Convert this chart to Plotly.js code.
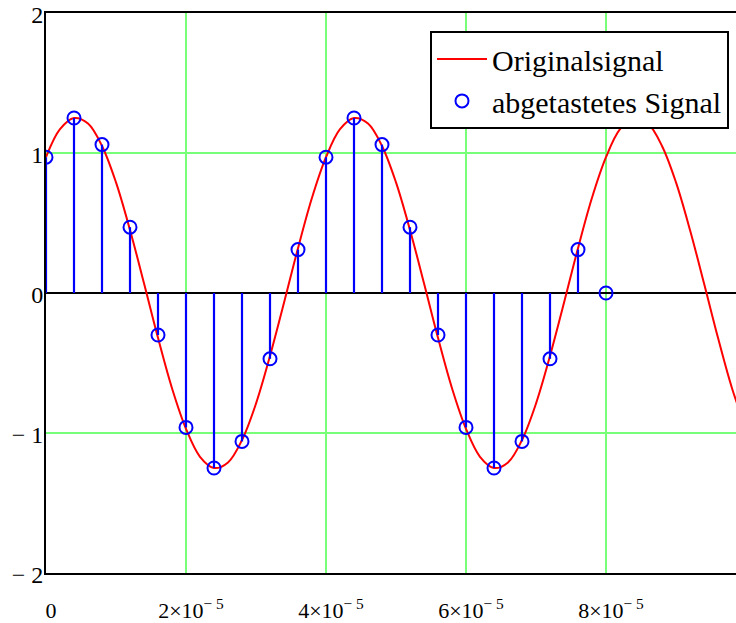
<!DOCTYPE html>
<html>
<head>
<meta charset="utf-8">
<script src="https://cdn.plot.ly/plotly-3.0.1.min.js"></script>
<style>
html,body{margin:0;padding:0;overflow:hidden;background:#fff;width:736px;height:623px;}
#chart{width:750px;height:623px;}
</style>
</head>
<body>
<div id="chart"></div>
<script>
// Original signal, read every 2 µs from the picture
var curveT = [0,2e-6,4e-6,6e-6,8e-6,10e-6,12e-6,14e-6,16e-6,18e-6,
              20e-6,22e-6,24e-6,26e-6,28e-6,30e-6,32e-6,34e-6,36e-6,38e-6,
              40e-6,42e-6,44e-6,46e-6,48e-6,50e-6,52e-6,54e-6,56e-6,58e-6,
              60e-6,62e-6,64e-6,66e-6,68e-6,70e-6,72e-6,74e-6,76e-6,78e-6,
              80e-6,82e-6,84e-6,86e-6,88e-6,90e-6,92e-6,94e-6,96e-6,98e-6,100e-6];
var curveV = [0.97,1.17,1.25,1.21,1.05,0.79,0.45,0.07,-0.32,-0.68,
              -0.97,-1.17,-1.25,-1.21,-1.05,-0.79,-0.45,-0.07,0.32,0.68,
              0.97,1.17,1.25,1.21,1.05,0.79,0.45,0.07,-0.32,-0.68,
              -0.97,-1.17,-1.25,-1.21,-1.05,-0.79,-0.45,-0.07,0.32,0.68,
              0.97,1.17,1.25,1.21,1.05,0.79,0.45,0.07,-0.32,-0.68,-0.97];

// Sampled signal (every 4 µs)
var sampT = [0,4e-6,8e-6,12e-6,16e-6,20e-6,24e-6,28e-6,32e-6,36e-6,
             40e-6,44e-6,48e-6,52e-6,56e-6,60e-6,64e-6,68e-6,72e-6,76e-6,80e-6];
var sampV = [0.97,1.25,1.06,0.47,-0.30,-0.96,-1.25,-1.06,-0.47,0.31,
             0.97,1.25,1.06,0.47,-0.30,-0.96,-1.25,-1.06,-0.47,0.31,0];

// Axis ticks
var xTickVals = [0,2e-5,4e-5,6e-5,8e-5];
var xTickText = ['0','2×10<sup>− 5</sup>','4×10<sup>− 5</sup>','6×10<sup>− 5</sup>','8×10<sup>− 5</sup>'];
var yTickVals = [-2,-1,0,1,2];
var yTickText = ['− 2','− 1','0','1','2'];

var seriesNames = ['Originalsignal','abgetastetes Signal'];

// stems built from the sample arrays
var stemX = [], stemY = [];
for (var i = 0; i < sampT.length; i++) {
  stemX.push(sampT[i], sampT[i], null);
  stemY.push(0, sampV[i], null);
}

var FONT = '"Liberation Serif","Times New Roman",serif';
var GRID = '#78ff78';

var traces = [
  {x: curveT, y: curveV, type: 'scatter', mode: 'lines', name: seriesNames[0],
   line: {color: '#ff0000', width: 2, shape: 'spline', smoothing: 1}},
  {x: stemX, y: stemY, type: 'scatter', mode: 'lines', showlegend: false,
   line: {color: '#0000ff', width: 2.2}, hoverinfo: 'skip'},
  {x: sampT, y: sampV, type: 'scatter', mode: 'markers', name: seriesNames[1],
   marker: {symbol: 'circle-open', size: 13, color: '#0000ff', line: {width: 2, color: '#0000ff'}}}
];

var layout = {
  width: 750, height: 623,
  margin: {l: 46, r: 4, t: 13, b: 50},
  paper_bgcolor: '#fff', plot_bgcolor: '#fff',
  font: {family: FONT, color: '#000'},
  showlegend: true,
  hovermode: false,
  legend: {x: 0.9757, xanchor: 'right', y: 0.968, yanchor: 'top',
           bgcolor: '#fff', bordercolor: '#000', borderwidth: 2,
           font: {family: FONT, size: 30, color: '#000'},
           traceorder: 'normal', itemwidth: 50},
  xaxis: {range: [0, 1e-4], tickmode: 'array', tickvals: xTickVals, ticktext: xTickText,
          showgrid: true, gridcolor: GRID, gridwidth: 1.5,
          zeroline: false, showline: true, linecolor: '#000', linewidth: 2, mirror: true,
          ticks: '', tickfont: {family: FONT, size: 22, color: '#000'},
          ticklabelstandoff: 17, ticklabelshift: 5, fixedrange: true},
  yaxis: {range: [-2, 2], tickmode: 'array', tickvals: yTickVals, ticktext: yTickText,
          showgrid: true, gridcolor: GRID, gridwidth: 1.5,
          zeroline: true, zerolinecolor: '#000', zerolinewidth: 2,
          showline: true, linecolor: '#000', linewidth: 2, mirror: true,
          ticks: '', tickfont: {family: FONT, size: 24, color: '#000'},
          ticklabelstandoff: -4, ticklabelshift: 2, fixedrange: true}
};

Plotly.newPlot('chart', traces, layout, {displayModeBar: false});
</script>
</body>
</html>
